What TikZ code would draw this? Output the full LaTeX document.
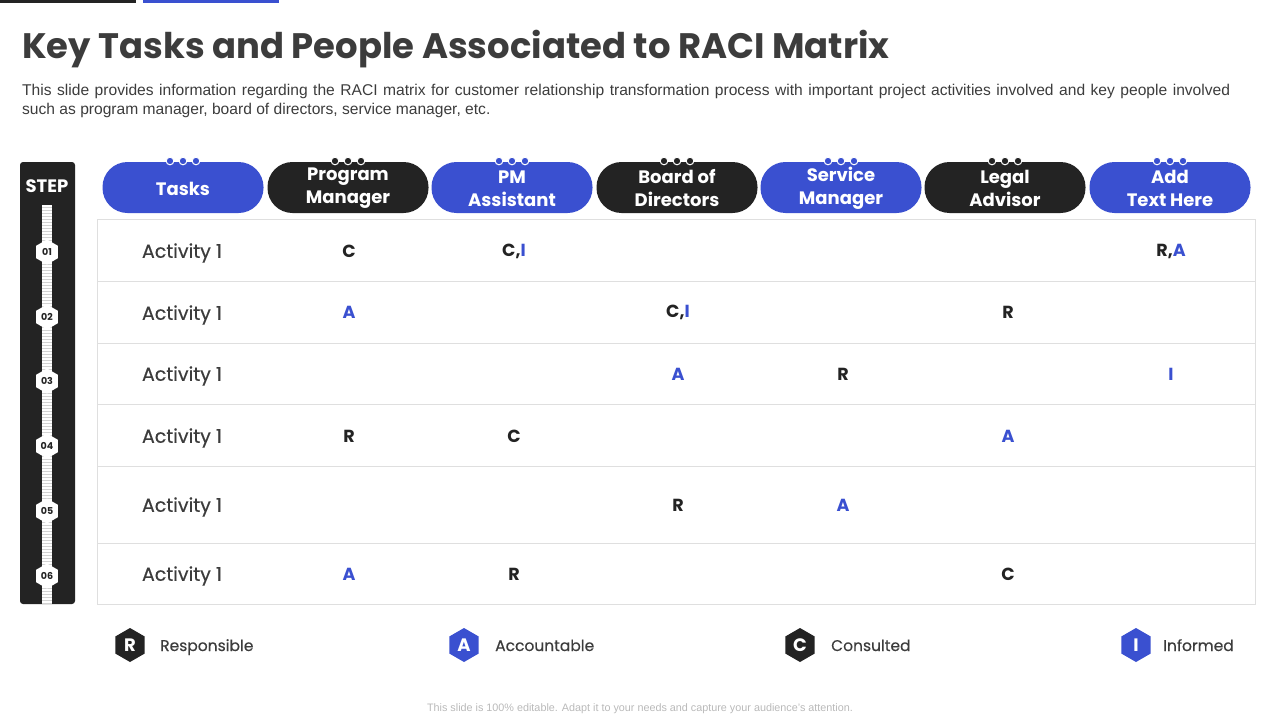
\documentclass[tikz,border=0pt]{standalone}
\usepackage{fontspec}
\setmainfont{Liberation Sans}
\newfontfamily\gothic{Poppins}
\newfontfamily\gothicmed[FakeBold=0.4]{Poppins}
\usetikzlibrary{shapes,positioning}
\definecolor{raciblue}{HTML}{3A50D0}
\definecolor{racidark}{HTML}{232323}
\definecolor{racigray}{HTML}{3C3C3C}
\tikzset{
  head/.style={rounded corners=25pt, minimum width=161pt, minimum height=51pt, inner sep=0pt,
    text=white, align=center, font=\gothic\bfseries\fontsize{18}{23}\selectfont},
  hexa/.style={regular polygon, regular polygon sides=6, shape border rotate=30, inner sep=0pt},
  racimark/.style={font=\gothic\bfseries\fontsize{17.5}{20}\selectfont, text=racidark},
  activity/.style={font=\gothicmed\fontsize{19}{22}\selectfont, text=racigray},
  legendtext/.style={anchor=base west, inner sep=0pt, font=\gothicmed\fontsize{15.5}{18}\selectfont, text=racigray}
}
\newcommand{\bl}[1]{\textcolor{raciblue}{#1}}
\begin{document}
\begin{tikzpicture}[x=1pt,y=-1pt]
\useasboundingbox (0,0) rectangle (1280,720);
% top bars
\fill[racidark] (0,0) rectangle (136,3);
\fill[raciblue] (143,0) rectangle (279,3);
% title and text
\node[anchor=base west, inner sep=0pt, text=racigray, font=\gothic\bfseries\fontsize{35.4}{40}\selectfont] (title) at (22,58) {Key Tasks and People Associated to RACI Matrix};
\node[anchor=north west, inner sep=0pt, text width=1208pt, align=justify, text=racigray, font=\fontsize{15.6}{19}\selectfont] (intro) at (22,83.5)
  {This slide provides information regarding the RACI matrix for customer relationship transformation process with important project activities involved and key people involved\linebreak such as program manager, board of directors, service manager, etc.};
% step bar
\fill[racidark, rounded corners=3pt] (20,162) rectangle (75,604);
\node[text=white, font=\gothic\bfseries\fontsize{18}{20}\selectfont] (step) at (47,186) {STEP};
\fill[white] (42,205) rectangle (52,604);
\foreach \y in {207,210,...,603}
  \draw[gray!35, line width=0.5pt] (42,\y) -- (52,\y);
\foreach \n/\y in {01/252,02/317,03/381,04/446,05/511,06/576}
  \node[hexa, fill=white, minimum size=25pt, text=racidark, font=\gothic\bfseries\fontsize{9.5}{12}\selectfont] (s\n) at (47,\y) {\n};
% table
\draw[gray!25, line width=1pt] (97,219) rectangle (1255,604);
\foreach \y in {281,343,404,466,543}
  \draw[gray!25, line width=1pt] (97,\y) -- (1255,\y);
% headers
\foreach \i/\x/\c/\t in {1/183/raciblue/Tasks, 2/348/racidark/Program\\Manager, 3/512/raciblue/PM\\Assistant, 4/677/racidark/Board of\\Directors, 5/841/raciblue/Service\\Manager, 6/1005/racidark/Legal\\Advisor, 7/1170/raciblue/Add\\Text Here}{
  \node[head, fill=\c] (h\i) at (\x,187.5) {};
  \node[head, fill=none, text=white] (ht\i) at (\x,188.5) {\t};
  \draw[white, line width=0.8pt] (\x-13,161) -- (\x+13,161);
  \foreach \d in {-13,0,13}
    \draw[white, fill=\c, line width=1pt] (\x+\d,161) circle (3.8);
}
% activities
\foreach \r/\y in {1/250,2/312,3/373,4/435,5/504,6/573}
  \node[activity] (a\r) at (182,\y+3) {Activity 1};
% row 1
\node[racimark] (m12) at (349,251) {C};
\node[racimark] (m13) at (514,251) {C,\bl{I}};
\node[racimark] (m17) at (1171,251) {R,\bl{A}};
% row 2
\node[racimark] (m22) at (349,312) {\bl{A}};
\node[racimark] (m24) at (678,312) {C,\bl{I}};
\node[racimark] (m26) at (1008,312) {R};
% row 3
\node[racimark] (m34) at (678,374) {\bl{A}};
\node[racimark] (m35) at (843,374) {R};
\node[racimark] (m37) at (1171,374) {\bl{I}};
% row 4
\node[racimark] (m42) at (349,436) {R};
\node[racimark] (m43) at (514,436) {C};
\node[racimark] (m46) at (1008,436) {\bl{A}};
% row 5
\node[racimark] (m54) at (678,505) {R};
\node[racimark] (m55) at (843,505) {\bl{A}};
% row 6
\node[racimark] (m62) at (349,574) {\bl{A}};
\node[racimark] (m63) at (514,574) {R};
\node[racimark] (m66) at (1008,574) {C};
% legend
\foreach \k/\x/\c/\t/\w in {R/130/racidark/Responsible/160, A/464/raciblue/Accountable/495, C/800/racidark/Consulted/831, I/1136/raciblue/Informed/1163}{
  \node[hexa, fill=\c, minimum size=34pt, text=white, font=\gothic\bfseries\fontsize{18}{20}\selectfont] (l\k) at (\x,645) {\k};
  \node[legendtext] (t\k) at (\w,651) {\t};
}
% footer
\node[text=gray!55, font=\fontsize{10.8}{12}\selectfont] (foot) at (640,709) {This slide is 100\% editable. Adapt it to your needs and capture your audience's attention.};
\end{tikzpicture}
\end{document}
